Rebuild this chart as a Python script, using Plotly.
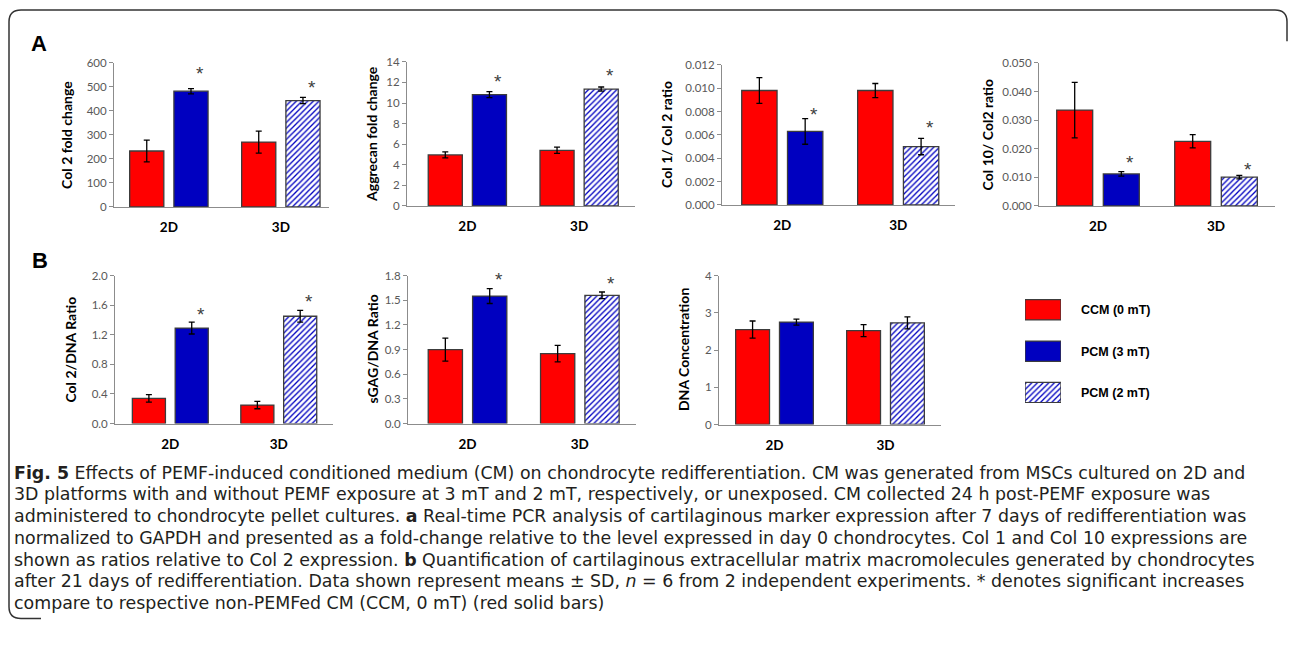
import plotly.graph_objects as go

W, H = 1292, 653

# ---------------- data ----------------
categories = ["2D", "3D"]
series_names = ["CCM (0 mT)", "PCM (3 mT)", "PCM (2 mT)"]

# Panel A
col2_fold_ccm = [233, 270]
col2_fold_ccm_sd = [45, 46]
col2_fold_pcm = [482, 443]
col2_fold_pcm_sd = [11, 13]
col2_fold_star = [567, 510]

aggrecan_ccm = [4.96, 5.41]
aggrecan_ccm_sd = [0.29, 0.30]
aggrecan_pcm = [10.82, 11.36]
aggrecan_pcm_sd = [0.30, 0.20]
aggrecan_star = [12.35, 13.0]

col1_col2_ccm = [0.0098, 0.0098]
col1_col2_ccm_sd = [0.0011, 0.0006]
col1_col2_pcm = [0.0063, 0.0050]
col1_col2_pcm_sd = [0.0011, 0.0007]
col1_col2_star = [0.0080, 0.0069]

col10_col2_ccm = [0.0335, 0.0226]
col10_col2_ccm_sd = [0.0097, 0.0023]
col10_col2_pcm = [0.0112, 0.0101]
col10_col2_pcm_sd = [0.0008, 0.0006]
col10_col2_star = [0.0164, 0.0138]

# Panel B
col2_dna_ccm = [0.34, 0.25]
col2_dna_ccm_sd = [0.05, 0.05]
col2_dna_pcm = [1.29, 1.45]
col2_dna_pcm_sd = [0.08, 0.08]
col2_dna_star = [1.51, 1.69]

sgag_dna_ccm = [0.90, 0.85]
sgag_dna_ccm_sd = [0.14, 0.10]
sgag_dna_pcm = [1.55, 1.56]
sgag_dna_pcm_sd = [0.09, 0.04]
sgag_dna_star = [1.79, 1.74]

dna_conc_ccm = [2.55, 2.52]
dna_conc_ccm_sd = [0.23, 0.16]
dna_conc_pcm = [2.75, 2.73]
dna_conc_pcm_sd = [0.08, 0.16]

caption_lines = [
    "<b>Fig. 5</b> Effects of PEMF-induced conditioned medium (CM) on chondrocyte redifferentiation. CM was generated from MSCs cultured on 2D and",
    "3D platforms with and without PEMF exposure at 3 mT and 2 mT, respectively, or unexposed. CM collected 24 h post-PEMF exposure was",
    "administered to chondrocyte pellet cultures. <b>a</b> Real-time PCR analysis of cartilaginous marker expression after 7 days of redifferentiation was",
    "normalized to GAPDH and presented as a fold-change relative to the level expressed in day 0 chondrocytes. Col 1 and Col 10 expressions are",
    "shown as ratios relative to Col 2 expression. <b>b</b> Quantification of cartilaginous extracellular matrix macromolecules generated by chondrocytes",
    "after 21 days of redifferentiation. Data shown represent means ± SD, <i>n</i> = 6 from 2 independent experiments. * denotes significant increases",
    "compare to respective non-PEMFed CM (CCM, 0 mT) (red solid bars)",
]

# ---------------- styling / layout ----------------
RED = "#FF0000"
BLUE = "#0000C0"
EDGE = "#3c3c3c"
AXIS = "#8c8c8c"
TICKC = "#595959"
FONT = "Lato, 'Open Sans', sans-serif"


def X(px):
    return px / W


def Y(py):
    return 1 - py / H


# (title, ccm, ccm_sd, pcm, pcm_sd, star, ymax, dtick, fmt,
#  x0px, x1px, ytop_px, ybot_px, xrange, title_x_px)
panels = [
    ("Col 2 fold change", col2_fold_ccm, col2_fold_ccm_sd, col2_fold_pcm, col2_fold_pcm_sd,
     col2_fold_star, 600, 100, "d", 114, 329, 57, 204, [-0.49, 1.43], 67),
    ("Aggrecan fold change", aggrecan_ccm, aggrecan_ccm_sd, aggrecan_pcm, aggrecan_pcm_sd,
     aggrecan_star, 14, 2, "d", 407, 635, 56, 203, [-0.54, 1.50], 372),
    ("Col 1/ Col 2 ratio", col1_col2_ccm, col1_col2_ccm_sd, col1_col2_pcm, col1_col2_pcm_sd,
     col1_col2_star, 0.012, 0.002, ".3f", 722, 955, 59, 202, [-0.52, 1.49], 667),
    ("Col 10/ Col2 ratio", col10_col2_ccm, col10_col2_ccm_sd, col10_col2_pcm, col10_col2_pcm_sd,
     col10_col2_star, 0.050, 0.010, ".3f", 1039, 1275, 57, 203, [-0.50, 1.50], 987),
    ("Col 2/DNA Ratio", col2_dna_ccm, col2_dna_ccm_sd, col2_dna_pcm, col2_dna_pcm_sd,
     col2_dna_star, 2.0, 0.4, ".1f", 115, 333, 274, 425, [-0.51, 1.50], 71),
    ("sGAG/DNA Ratio", sgag_dna_ccm, sgag_dna_ccm_sd, sgag_dna_pcm, sgag_dna_pcm_sd,
     sgag_dna_star, 1.8, 0.3, ".1f", 408, 636, 274, 425, [-0.53, 1.50], 373),
    ("DNA Concentration", dna_conc_ccm, dna_conc_ccm_sd, dna_conc_pcm, dna_conc_pcm_sd,
     None, 4, 1, "d", 719, 941, 274, 426, [-0.50, 1.50], 683),
]

BAR_W = 0.305
HALF_GAP = 0.045
PATTERN = dict(fgcolor=BLUE, bgcolor="white", size=4, solidity=0.33, fillmode="replace")

fig = go.Figure()
annotations = []
layout_axes = {}

for i, (title, ccm, ccm_sd, pcm, pcm_sd, star, ymax, dtick, fmt,
        x0, x1, yt, yb, xr, tx) in enumerate(panels):
    n = i + 1
    xa = "x" if n == 1 else f"x{n}"
    ya = "y" if n == 1 else f"y{n}"
    xs = list(range(len(categories)))
    fig.add_trace(go.Bar(
        x=xs, y=ccm, xaxis=xa, yaxis=ya, name=series_names[0], showlegend=False,
        width=BAR_W, offset=-BAR_W - HALF_GAP,
        marker=dict(color=RED, line=dict(color=EDGE, width=1.3)),
        error_y=dict(type="data", array=ccm_sd, color="black", thickness=1.3, width=3),
    ))
    fig.add_trace(go.Bar(
        x=xs, y=pcm, xaxis=xa, yaxis=ya, name="PCM", showlegend=False,
        width=BAR_W, offset=HALF_GAP,
        marker=dict(color=BLUE, line=dict(color=EDGE, width=1.3),
                    pattern=dict(shape=["", "/"], **PATTERN)),
        error_y=dict(type="data", array=pcm_sd, color="black", thickness=1.3, width=3),
    ))
    xkey = "xaxis" if n == 1 else f"xaxis{n}"
    ykey = "yaxis" if n == 1 else f"yaxis{n}"
    layout_axes[xkey] = dict(
        domain=[X(x0), X(x1)], anchor=ya, range=xr, tickvals=xs, ticktext=categories,
        showline=True, linecolor=AXIS, linewidth=1.3, ticks="outside", ticklen=8,
        tickcolor="rgba(0,0,0,0)", showgrid=False, zeroline=False, fixedrange=True,
        tickfont=dict(family=FONT, size=13.5, color="black", weight="bold"),
    )
    layout_axes[ykey] = dict(
        domain=[Y(yb), Y(yt)], anchor=xa, range=[0, ymax], dtick=dtick, tick0=0,
        tickformat=fmt, showline=True, linecolor=AXIS, linewidth=1, ticks="outside",
        ticklen=4, tickcolor=AXIS, showgrid=False, zeroline=False, fixedrange=True,
        tickfont=dict(family=FONT, size=11.5, color=TICKC),
    )
    annotations.append(dict(
        x=X(tx), y=(Y(yb) + Y(yt)) / 2, xref="paper", yref="paper", text=f"<b>{title}</b>",
        textangle=-90, showarrow=False, xanchor="center", yanchor="middle",
        font=dict(family=FONT, size=14, color="black"),
    ))
    if star is not None:
        for k, sy in enumerate(star):
            annotations.append(dict(
                x=k + HALF_GAP + BAR_W / 2, y=sy, xref=xa, yref=ya, text="*",
                showarrow=False, xshift=9, yshift=-3, xanchor="center", yanchor="middle",
                font=dict(family="Liberation Sans, Arial", size=19, color="#404040"),
            ))

# ---------------- legend (swatch bars on a hidden axis) ----------------
legend_rows = [0, 1, 2]
fig.add_trace(go.Bar(
    x=[1, 1, 1], y=legend_rows, orientation="h", xaxis="x8", yaxis="y8", showlegend=False,
    width=0.49, hoverinfo="skip",
    marker=dict(color=[RED, BLUE, BLUE], line=dict(color=EDGE, width=1.3),
                pattern=dict(shape=["", "", "/"], **PATTERN)),
))
layout_axes["xaxis8"] = dict(domain=[X(1025), X(1061)], anchor="y8", range=[0, 1],
                             visible=False, fixedrange=True)
layout_axes["yaxis8"] = dict(domain=[Y(404), Y(298)], anchor="x8", range=[2.25, -0.26],
                             visible=False, fixedrange=True)
for name, py in zip(series_names, [309, 352, 394]):
    annotations.append(dict(
        x=X(1079), y=Y(py), xref="paper", yref="paper", text=f"<b>{name}</b>",
        showarrow=False, xanchor="left", yanchor="middle",
        font=dict(family="Liberation Sans, Arial, sans-serif", size=12.5, color="black"),
    ))

# ---------------- panel letters ----------------
annotations.append(dict(x=X(29), y=Y(37), xref="paper", yref="paper", text="<b>A</b>",
                        showarrow=False, xanchor="left", yanchor="middle",
                        font=dict(family="Liberation Sans, Arial", size=22, color="black")))
annotations.append(dict(x=X(30), y=Y(259), xref="paper", yref="paper", text="<b>B</b>",
                        showarrow=False, xanchor="left", yanchor="middle",
                        font=dict(family="Liberation Sans, Arial", size=22, color="black")))

# ---------------- caption (one annotation per line) ----------------
for j, line in enumerate(caption_lines):
    annotations.append(dict(
        x=X(12), y=Y(475 + 22.2 * j), xref="paper", yref="paper", text=line,
        showarrow=False, xanchor="left", yanchor="middle", align="left",
        font=dict(family="'DejaVu Sans', sans-serif", size=17.4, color="#231f20"),
    ))

# ---------------- frame ----------------
r = 12
frame = (f"M {X(1287)},{Y(3 + r + 20)} L {X(1287)},{Y(3 + r)} "
         f"Q {X(1287)},{Y(3)} {X(1287 - r)},{Y(3)} "
         f"L {X(9 + r)},{Y(3)} Q {X(9)},{Y(3)} {X(9)},{Y(3 + r)} "
         f"L {X(9)},{Y(624 - r)} Q {X(9)},{Y(624)} {X(9 + r)},{Y(624)} L {X(9 + r + 20)},{Y(624)}")
shapes = [dict(type="path", path=frame, xref="paper", yref="paper",
               line=dict(color="#333333", width=1.5))]

fig.update_layout(
    width=W, height=H, margin=dict(l=0, r=0, t=0, b=0),
    paper_bgcolor="white", plot_bgcolor="white", barmode="overlay",
    showlegend=False, annotations=annotations, shapes=shapes, **layout_axes,
)

fig.write_html("out.html", config={"displayModeBar": False},
               post_script="document.body.style.margin='0px';")
